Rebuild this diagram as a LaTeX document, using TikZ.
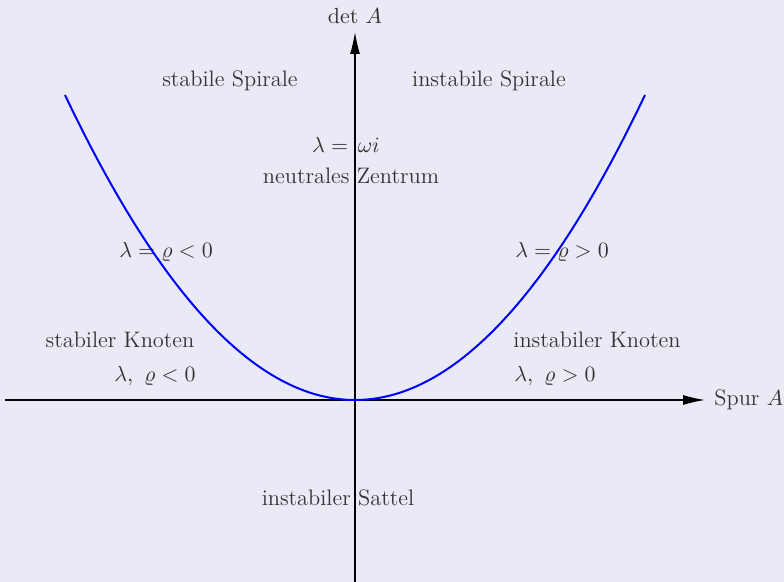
\documentclass[tikz,border=0pt]{standalone}
\usetikzlibrary{arrows.meta}
\definecolor{bgcol}{RGB}{234,234,246}
\definecolor{txtcol}{RGB}{51,51,51}
\definecolor{curvecol}{RGB}{0,0,255}
\begin{document}
\begin{tikzpicture}[x=0.5pt,y=-0.5pt,
  axis/.style={line width=0.6pt,draw=black,-{Latex[length=11pt,width=5pt]}},
  curve/.style={line width=1pt,draw=curvecol},
  lbl/.style={text=txtcol,font=\fontsize{11.2}{13}\selectfont,inner sep=0pt}]
\fill[bgcol] (0,0) rectangle (784,582);
\useasboundingbox (0,0) rectangle (784,582);
\coordinate (xs) at (5,400);
\coordinate (xe) at (705,400);
\coordinate (ys) at (355,582);
\coordinate (ye) at (355,32);
\draw[axis] (xs) -- (xe);
\draw[axis] (ys) -- (ye);
\node[lbl,anchor=west] (spur) at (714,400) {Spur $A$};
\node[lbl] (det) at (355,16) {$\det\,A$};
\node[lbl] (stsp) at (230,81) {stabile Spirale};
\node[lbl] (insp) at (489,81) {instabile Spirale};
\node[lbl] (omega) at (346,145) {$\lambda =\,\omega i$};
\node[lbl] (zent) at (351,176) {neutrales Zentrum};
\node[lbl] (lneg) at (166,252) {$\lambda = \varrho < 0$};
\node[lbl] (lpos) at (562,252) {$\lambda = \varrho > 0$};
\node[lbl] (stkn) at (120,340) {stabiler Knoten};
\node[lbl] (inkn) at (597,340) {instabiler Knoten};
\node[lbl] (kneg) at (155,376) {$\lambda,\ \varrho < 0$};
\node[lbl] (kpos) at (555,376) {$\lambda,\ \varrho > 0$};
\node[lbl] (satt) at (338,498) {instabiler Sattel};
\draw[curve] plot[domain=-2.9:2.9,samples=120,smooth] ({355+100*\x},{400-36.266*\x*\x});
\end{tikzpicture}
\end{document}
